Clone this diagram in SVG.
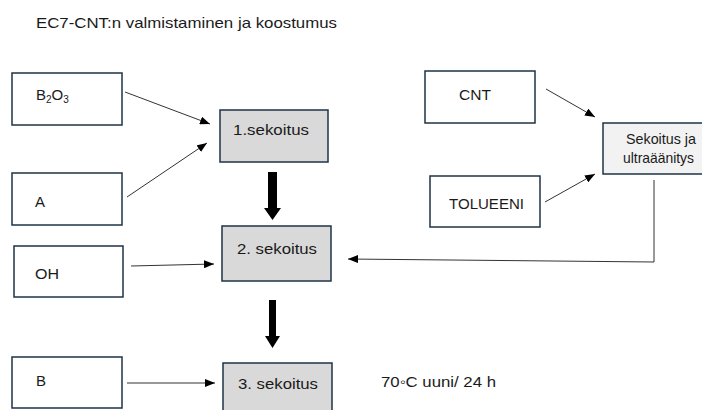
<svg xmlns="http://www.w3.org/2000/svg" width="702" height="410" viewBox="0 0 702 410">
<defs>
<marker id="ah" markerWidth="10" markerHeight="8" refX="10" refY="4" orient="auto" markerUnits="userSpaceOnUse">
<path d="M0,0 L10,4 L0,8 Z" fill="#000"/>
</marker>
<style>
.box{fill:#fff;stroke:#1f3346;stroke-width:1.5}
.mix{fill:#d9d9d9;stroke:#1f3346;stroke-width:1.5}
.mix2{fill:#f2f2f2;stroke:#1f3346;stroke-width:1.5}
text{font-family:"Liberation Sans",Arial,sans-serif;font-size:15px;fill:#1a1a1a}
.conn{stroke:#333;stroke-width:1;fill:none;marker-end:url(#ah)}
.thick{fill:#000}
</style>
</defs>
<rect width="702" height="410" fill="#fff"/>
<text x="36" y="28" font-size="14.5" textLength="301" lengthAdjust="spacingAndGlyphs">EC7-CNT:n valmistaminen ja koostumus</text>

<g id="b2o3"><rect class="box" x="12" y="73" width="110" height="52"/><text x="36" y="100">B<tspan font-size="10" dy="3">2</tspan><tspan dy="-3">O</tspan><tspan font-size="10" dy="3">3</tspan></text></g>
<g id="a"><rect class="box" x="12" y="173" width="110" height="52"/><text x="35" y="207">A</text></g>
<g id="sek1"><rect class="mix" x="220" y="110" width="108" height="52"/><text x="233" y="135" textLength="76" lengthAdjust="spacingAndGlyphs">1.sekoitus</text></g>
<g id="oh"><rect class="box" x="14" y="246" width="109" height="51"/><text x="35" y="279" textLength="24" lengthAdjust="spacingAndGlyphs">OH</text></g>
<g id="sek2"><rect class="mix" x="222" y="226" width="109" height="55"/><text x="237" y="254" textLength="80" lengthAdjust="spacingAndGlyphs">2. sekoitus</text></g>
<g id="b"><rect class="box" x="12" y="357" width="110" height="51"/><text x="36" y="386">B</text></g>
<g id="sek3"><rect class="mix" x="223" y="363" width="109" height="52"/><text x="238" y="389" textLength="80" lengthAdjust="spacingAndGlyphs">3. sekoitus</text></g>
<g id="cnt"><rect class="box" x="425" y="71" width="110" height="52"/><text x="459" y="100" textLength="32" lengthAdjust="spacingAndGlyphs">CNT</text></g>
<g id="tolueeni"><rect class="box" x="430" y="176" width="110" height="51"/><text x="449" y="209" textLength="75" lengthAdjust="spacingAndGlyphs">TOLUEENI</text></g>
<g id="sekult"><rect class="mix2" x="603" y="123" width="110" height="51"/><text x="661" y="144" font-size="12.5" text-anchor="middle" textLength="70" lengthAdjust="spacingAndGlyphs">Sekoitus ja</text><text x="658.5" y="163" font-size="12.5" text-anchor="middle" textLength="71" lengthAdjust="spacingAndGlyphs">ultraäänitys</text></g>
<g id="note"><text x="381" y="387" font-size="14.5" textLength="115" lengthAdjust="spacingAndGlyphs">70◦C uuni/ 24 h</text></g>

<g id="connectors">
<line class="conn" x1="125" y1="92" x2="210" y2="124"/>
<line class="conn" x1="127" y1="197" x2="207" y2="143"/>
<line class="conn" x1="131" y1="266" x2="214" y2="264"/>
<line class="conn" x1="127" y1="383" x2="215" y2="383"/>
<line class="conn" x1="546" y1="89" x2="595" y2="117"/>
<line class="conn" x1="545" y1="202" x2="595" y2="174"/>
<polyline class="conn" points="654,180 654,262 348,259"/>
<polygon class="thick" points="268,172 277,172 277,208 281,208 272.5,220 264,208 268,208"/>
<polygon class="thick" points="269,300 276,300 276,336 280,336 272.5,348 265,336 269,336"/>
</g>
</svg>
